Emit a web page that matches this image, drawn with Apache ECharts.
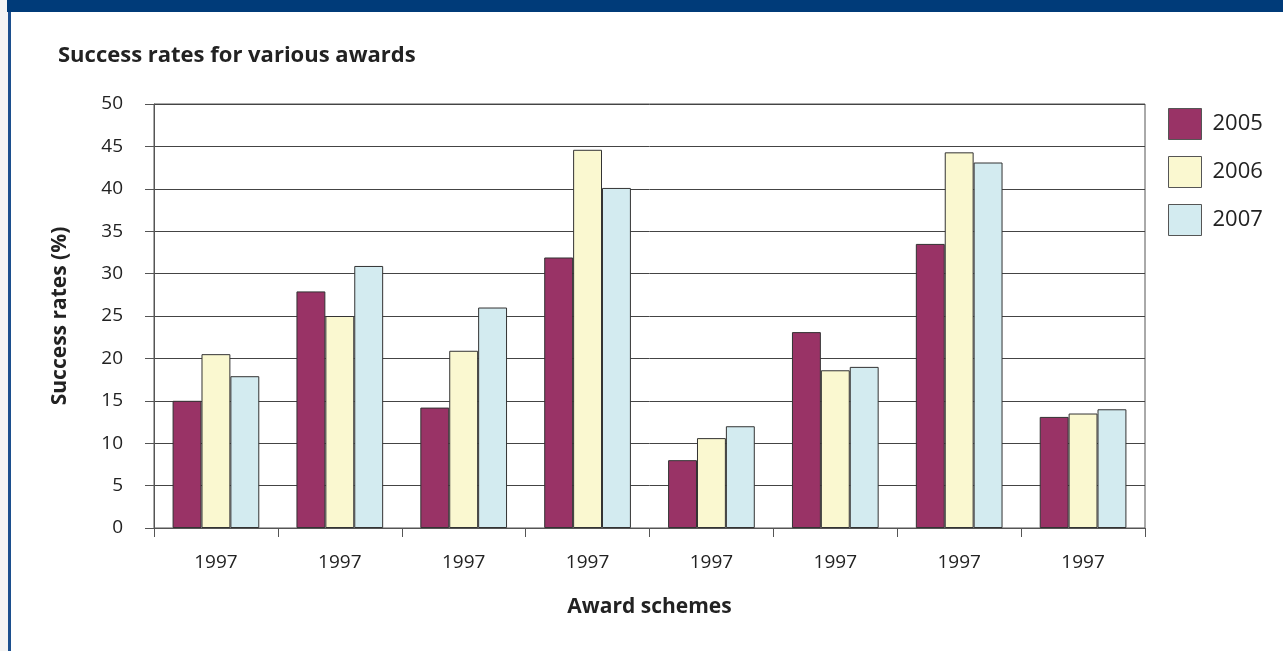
<!DOCTYPE html>
<html>
<head>
<meta charset="utf-8">
<script src="https://cdn.jsdelivr.net/npm/echarts@6/dist/echarts.min.js"></script>
<style>
  html, body { margin: 0; padding: 0; background: #fff; }
  #chart { width: 1283px; height: 651px; }
</style>
</head>
<body>
<div id="chart"></div>
<script>
// ── data ───────────────────────────────────────────────────
const schemes  = ['1997', '1997', '1997', '1997', '1997', '1997', '1997', '1997']
const years    = ['2005', '2006', '2007']
const rate2005 = [15.0, 27.9, 14.2, 31.9, 8.0, 23.1, 33.5, 13.1]
const rate2006 = [20.5, 25.0, 20.9, 44.6, 10.6, 18.6, 44.3, 13.5]
const rate2007 = [17.9, 30.9, 26.0, 40.1, 12.0, 19.0, 43.1, 14.0]
const yTicks   = { min: 0, max: 50, interval: 5 }

const COLORS    = ['#993366', '#faf8d0', '#d3ebf0']
const AXIS_CLR  = '#555'
const TEXT_CLR  = '#222'
const FONT      = '"Open Sans", Lato, sans-serif'

const chart = echarts.init(document.getElementById('chart'), null, { renderer: 'canvas' })

const bar = (name, data, i) => ({
  name, type: 'bar', data,
  barGap: '0%', barCategoryGap: '30%',
  itemStyle: { color: COLORS[i], borderColor: '#333', borderWidth: 1 },
  emphasis: { disabled: true },
})

chart.setOption({
  animation: false,
  textStyle: { fontFamily: FONT },
  title: {
    text: 'Success rates for various awards',
    left: 53, top: 40,
    textStyle: { fontSize: 22, fontWeight: 'bold', color: TEXT_CLR, fontFamily: FONT },
  },
  legend: {
    orient: 'vertical',
    left: 1163, top: 103,
    itemWidth: 33, itemHeight: 31, itemGap: 16,
    data: years,
    icon: 'rect',
    itemStyle: { borderColor: '#555', borderWidth: 1 },
    textStyle: { fontSize: 22, color: TEXT_CLR, padding: [0, 0, 0, 6], fontFamily: FONT },
  },
  grid: {
    left: 154, right: 138, top: 104, bottom: 123,
    show: true, borderColor: AXIS_CLR, borderWidth: 1,
    containLabel: false,
  },
  xAxis: {
    type: 'category',
    data: schemes,
    name: 'Award schemes',
    nameLocation: 'middle',
    nameGap: 69,
    nameTextStyle: { fontSize: 21, fontWeight: 'bold', color: TEXT_CLR },
    axisLine: { lineStyle: { color: AXIS_CLR } },
    axisTick: { show: true, length: 9, lineStyle: { color: AXIS_CLR } },
    axisLabel: { fontSize: 19, color: TEXT_CLR, margin: 25 },
  },
  yAxis: {
    type: 'value',
    min: yTicks.min, max: yTicks.max, interval: yTicks.interval,
    name: 'Success rates (%)',
    nameLocation: 'middle',
    nameRotate: 90,
    nameGap: 83,
    nameTextStyle: { fontSize: 21, fontWeight: 'bold', color: TEXT_CLR },
    axisLine: { show: true, lineStyle: { color: AXIS_CLR } },
    axisTick: { show: true, length: 9, lineStyle: { color: AXIS_CLR } },
    axisLabel: { fontSize: 19, color: TEXT_CLR, margin: 31 },
    splitLine: { lineStyle: { color: '#444', width: 1 } },
  },
  series: [
    bar(years[0], rate2005, 0),
    bar(years[1], rate2006, 1),
    bar(years[2], rate2007, 2),
  ],
  graphic: [
    { type: 'rect', shape: { x: 0, y: 0, width: 8, height: 651 }, style: { fill: '#f4f4f4' }, silent: true },
    { type: 'rect', shape: { x: 7, y: 0, width: 1276, height: 12 }, style: { fill: '#003b79' }, silent: true },
    { type: 'rect', shape: { x: 8, y: 12, width: 3, height: 639 }, style: { fill: '#1c4f8e' }, silent: true },
  ],
})
</script>
</body>
</html>
